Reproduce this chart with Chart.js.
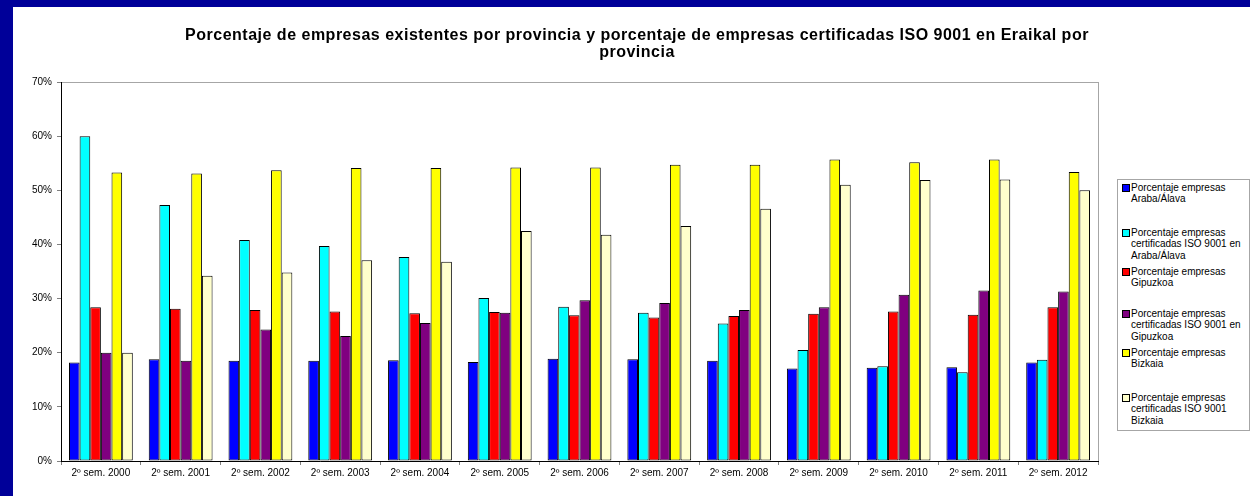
<!DOCTYPE html>
<html lang="es">
<head>
<meta charset="utf-8">
<title>Porcentaje de empresas por provincia</title>
<script src="https://cdn.jsdelivr.net/npm/chart.js@4.4.1/dist/chart.umd.min.js"></script>
<style>
    body { margin: 0; background: #000099; width: 1250px; height: 496px; overflow: hidden; font-family: "Liberation Sans", Arial, sans-serif; }
    #marco { position: absolute; left: 13px; top: 7px; width: 1237px; height: 489px; background: #ffffff; }
    #grafica { display: block; }
    #leyenda { position: absolute; left: 1117px; top: 179px; width: 131px; height: 250px; border: 1px solid #a6a6a6; background: #fff; }
    .item_leyenda { position: absolute; left: 3px; font-size: 10px; line-height: 11.4px; color: #000; white-space: nowrap; }
    .item_leyenda .marca { position: absolute; left: 1px; top: 2px; width: 6px; height: 6px; border: 1px solid #000; }
    .item_leyenda .texto { margin-left: 10px; }
</style>
</head>
<body>
<div id="marco"><canvas id="grafica" width="1237" height="489"></canvas></div>
<div id="leyenda"></div>

<script>
/* ==========================================================================
   DATOS (% sobre el total, 2º semestre de cada año)
   ========================================================================== */
const categorias = ['2º sem. 2000', '2º sem. 2001', '2º sem. 2002', '2º sem. 2003', '2º sem. 2004', '2º sem. 2005', '2º sem. 2006',
    '2º sem. 2007', '2º sem. 2008', '2º sem. 2009', '2º sem. 2010', '2º sem. 2011', '2º sem. 2012'];

const arabaEmpresas    = [18.2, 18.8, 18.5, 18.5, 18.6, 18.3, 18.9, 18.8, 18.5, 17.1, 17.2, 17.3, 18.2];
const arabaIso         = [60.0, 47.3, 40.8, 39.7, 37.7, 30.1, 28.5, 27.4, 25.4, 20.5, 17.5, 16.4, 18.7];
const gipuzkoaEmpresas = [28.4, 28.1, 27.9, 27.6, 27.3, 27.5, 26.9, 26.5, 26.8, 27.2, 27.6, 27.0, 28.4];
const gipuzkoaIso      = [20.0, 18.5, 24.3, 23.1, 25.5, 27.4, 29.7, 29.2, 27.9, 28.4, 30.7, 31.5, 31.3];
const bizkaiaEmpresas  = [53.3, 53.1, 53.7, 54.1, 54.1, 54.2, 54.2, 54.7, 54.7, 55.7, 55.2, 55.7, 53.4];
const bizkaiaIso       = [20.0, 34.2, 34.8, 37.1, 36.8, 42.5, 41.8, 43.4, 46.6, 51.0, 51.9, 52.0, 50.0];

const ticksY = [0, 10, 20, 30, 40, 50, 60, 70];

const nombresSeries = [
    ['Porcentaje empresas', 'Araba/Álava'],
    ['Porcentaje empresas', 'certificadas ISO 9001 en', 'Araba/Álava'],
    ['Porcentaje empresas', 'Gipuzkoa'],
    ['Porcentaje empresas', 'certificadas ISO 9001 en', 'Gipuzkoa'],
    ['Porcentaje empresas', 'Bizkaia'],
    ['Porcentaje empresas', 'certificadas ISO 9001', 'Bizkaia']
];
const coloresSeries = ['#0000ff', '#00ffff', '#ff0000', '#800080', '#ffff00', '#ffffcc'];
const topesLeyenda = [2, 47, 86, 128, 167, 212];

const fuente = '"Liberation Sans", Arial, sans-serif';

/* ==========================================================================
   MARCO GRIS DEL ÁREA DE TRAZADO
   ========================================================================== */
const marcoArea = {
    id: 'marcoArea',
    beforeDraw(chart) {
        const { ctx, chartArea: a } = chart;
        ctx.save();
        ctx.strokeStyle = '#a6a6a6';
        ctx.lineWidth = 1;
        ctx.strokeRect(Math.round(a.left) + 0.5, Math.round(a.top) + 0.5, Math.round(a.right - a.left), Math.round(a.bottom - a.top));
        ctx.restore();
    }
};

/* ==========================================================================
   GRÁFICA
   ========================================================================== */
const series = [arabaEmpresas, arabaIso, gipuzkoaEmpresas, gipuzkoaIso, bizkaiaEmpresas, bizkaiaIso];

const grafica = new Chart(document.getElementById('grafica'), {
    type: 'bar',
    data: {
        labels: categorias,
        datasets: series.map((valores, i) => ({
            label: nombresSeries[i].join(' '),
            data: valores,
            backgroundColor: coloresSeries[i],
            borderColor: '#000000',
            borderWidth: 1,
            borderSkipped: false,
            categoryPercentage: 0.8,
            barPercentage: 1.0
        }))
    },
    options: {
        responsive: false,
        animation: false,
        layout: { padding: { left: 11, right: 0, top: 0, bottom: 0 } },
        plugins: {
            legend: { display: false },
            tooltip: { enabled: false },
            title: {
                display: true,
                text: ['Porcentaje de empresas existentes por provincia y porcentaje de empresas certificadas ISO 9001 en Eraikal por', 'provincia'],
                color: '#000',
                font: { family: fuente, size: 16, weight: 'bold', lineHeight: '17px' },
                padding: { top: 20, bottom: 21 }
            }
        },
        scales: {
            x: {
                grid: { offset: true, drawOnChartArea: false, drawTicks: true, tickLength: 4, color: '#808080' },
                border: { color: '#000000', width: 1 },
                ticks: { color: '#000', font: { family: fuente, size: 10 }, padding: 2, maxRotation: 0, autoSkip: false },
                afterFit(scale) { scale.height = 35; }
            },
            y: {
                min: 0,
                max: 70,
                afterBuildTicks(scale) { scale.ticks = ticksY.map(v => ({ value: v })); },
                grid: { drawOnChartArea: false, drawTicks: true, tickLength: 4, color: '#808080' },
                border: { color: '#000000', width: 1 },
                ticks: { color: '#000', font: { family: fuente, size: 10 }, padding: 5, callback: v => v + '%' },
                afterFit(scale) { scale.width = 37; }
            },
            espacioLeyenda: {
                type: 'linear',
                position: 'right',
                display: true,
                grid: { display: false },
                border: { display: false },
                ticks: { display: false },
                afterFit(scale) { scale.width = 152; }
            }
        }
    },
    plugins: [marcoArea]
});

// el título original es más ancho (Arial negrita de Windows): algo de espaciado entre letras
const bloqueTitulo = grafica.titleBlock;
if (bloqueTitulo) {
    const dibujarOriginal = bloqueTitulo.draw;
    bloqueTitulo.draw = function () {
        const ctx = this.ctx;
        ctx.save();
        ctx.letterSpacing = '0.5px';
        dibujarOriginal.call(this);
        ctx.restore();
    };
    grafica.draw();
}

/* ==========================================================================
   LEYENDA (HTML)
   ========================================================================== */
const leyenda = document.getElementById('leyenda');
nombresSeries.forEach((lineas, i) => {
    const item = document.createElement('div');
    item.className = 'item_leyenda';
    item.style.top = topesLeyenda[i] + 'px';
    item.innerHTML = `<span class="marca" style="background:${coloresSeries[i]}"></span><div class="texto">${lineas.join('<br>')}</div>`;
    leyenda.appendChild(item);
});
</script>
</body>
</html>
